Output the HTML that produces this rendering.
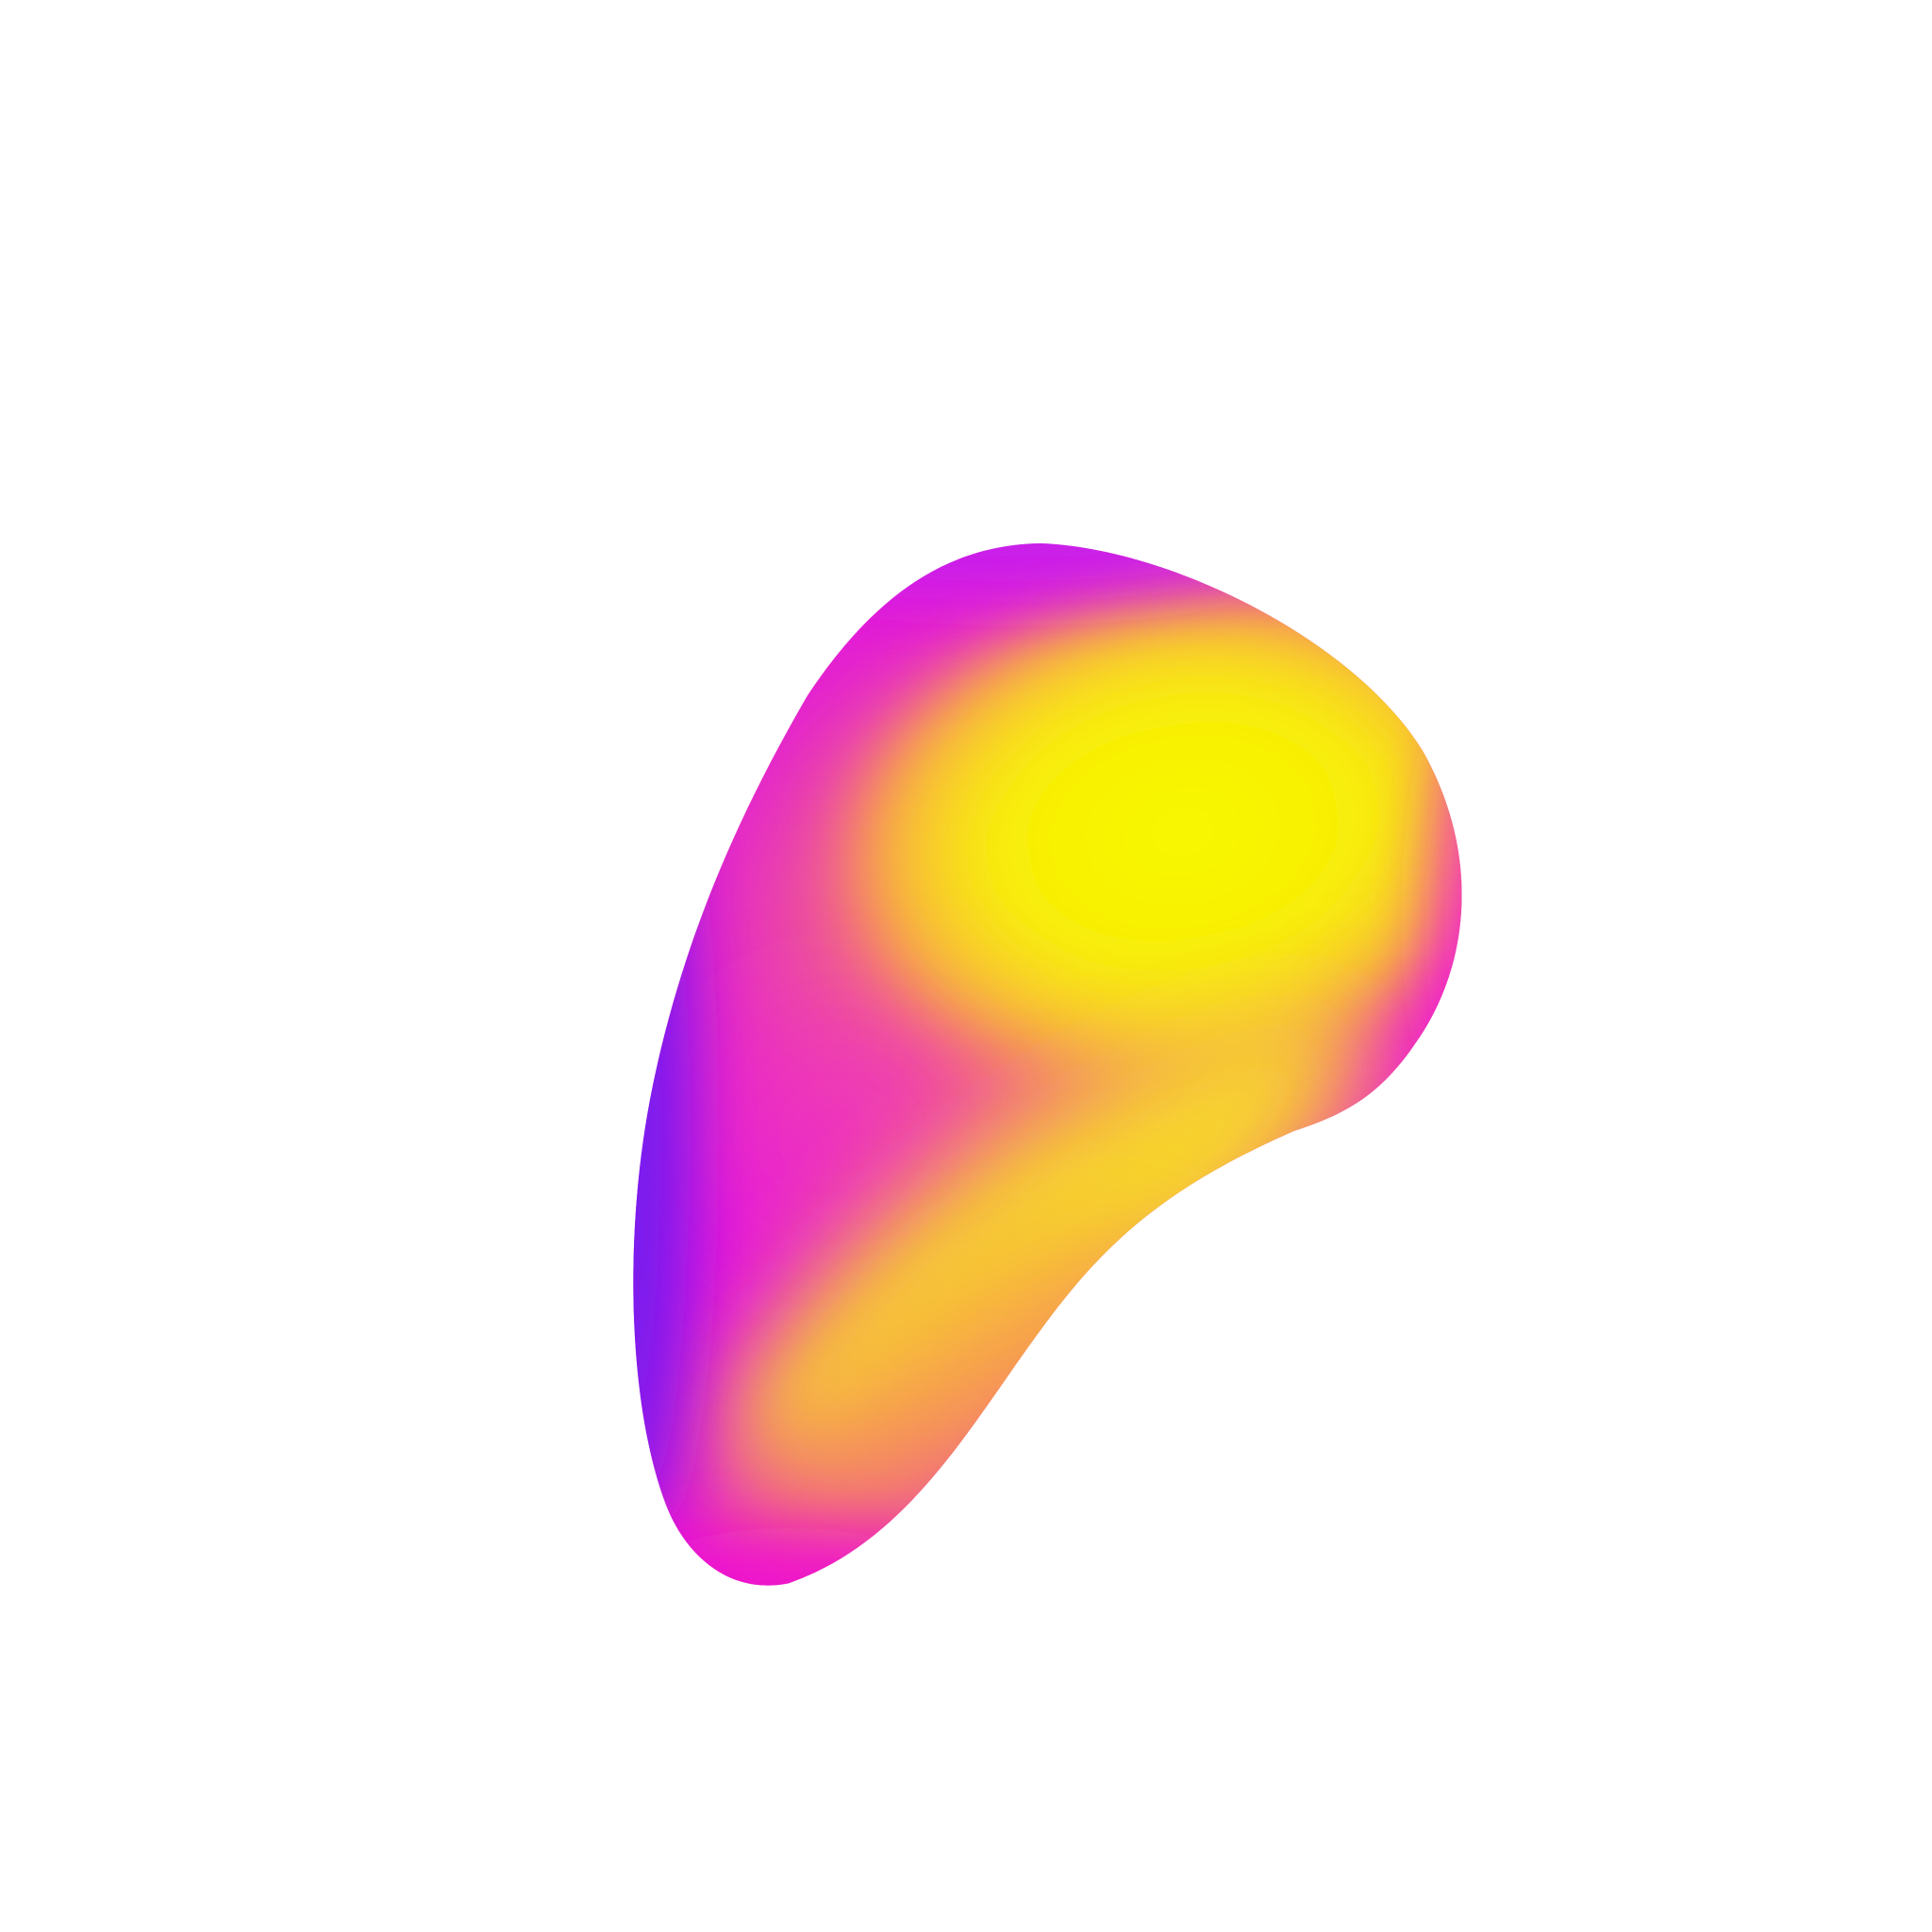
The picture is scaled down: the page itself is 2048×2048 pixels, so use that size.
<!DOCTYPE html>
<html><head><meta charset="utf-8"><style>
html,body{margin:0;padding:0;background:#fff;}
svg{display:block;}
</style></head><body>
<svg width="2048" height="2048" viewBox="0 0 1568 1568" xmlns="http://www.w3.org/2000/svg">
<defs>
<clipPath id="blob">
<path d="M845,441 C950,445 1100,520 1155,610 C1200,690 1195,780 1150,845 C1120,890 1090,905 1050,918 C950,962 900,1005 850,1072 C790,1152 740,1250 640,1285 C590,1295 555,1260 540,1220 C510,1140 505,1000 530,880 C555,760 600,660 655,565 C710,482 770,442 845,441 Z"/>
</clipPath>
<linearGradient id="base" x1="0" y1="0" x2="1" y2="0.2">
<stop offset="0" stop-color="#6a1cf0"/>
<stop offset="0.22" stop-color="#e015e0"/>
<stop offset="1" stop-color="#f020d0"/>
</linearGradient>
<radialGradient id="yel" cx="0.5" cy="0.5" r="0.5">
<stop offset="0" stop-color="#f8f800"/>
<stop offset="0.55" stop-color="#f8ee08"/>
<stop offset="0.85" stop-color="#f8b040"/>
<stop offset="1" stop-color="#f8a040" stop-opacity="0"/>
</radialGradient>
<filter id="b40" x="-100%" y="-100%" width="300%" height="300%"><feGaussianBlur stdDeviation="40"/></filter>
<filter id="b25" x="-100%" y="-100%" width="300%" height="300%"><feGaussianBlur stdDeviation="25"/></filter>
<filter id="b60" x="-100%" y="-100%" width="300%" height="300%"><feGaussianBlur stdDeviation="60"/></filter>
</defs>
<g clip-path="url(#blob)">
<rect x="400" y="400" width="900" height="950" fill="url(#base)"/>
<ellipse cx="780" cy="760" rx="170" ry="200" fill="#f47a70" opacity="0.75" filter="url(#b60)"/>
<ellipse cx="680" cy="920" rx="110" ry="110" fill="#f030c0" opacity="0.6" filter="url(#b40)"/>
<ellipse cx="960" cy="675" rx="290" ry="210" fill="url(#yel)" filter="url(#b25)" transform="rotate(-10 960 675)"/>
<g transform="rotate(-35 840 990)">
<ellipse cx="840" cy="1010" rx="310" ry="95" fill="#f8e020" filter="url(#b40)" opacity="0.95"/>
<ellipse cx="700" cy="1080" rx="220" ry="80" fill="#f89850" filter="url(#b40)" opacity="0.7"/>
</g>
<ellipse cx="515" cy="920" rx="45" ry="320" fill="#6a1cf0" filter="url(#b25)" opacity="0.9"/>
<ellipse cx="820" cy="430" rx="240" ry="50" fill="#c020f0" filter="url(#b25)" opacity="0.8"/>
<ellipse cx="1200" cy="740" rx="35" ry="160" fill="#f020d0" filter="url(#b25)" opacity="0.8"/>
<ellipse cx="640" cy="1290" rx="130" ry="50" fill="#f010d0" filter="url(#b25)" opacity="0.8"/>
</g>
</svg>
</body></html>
